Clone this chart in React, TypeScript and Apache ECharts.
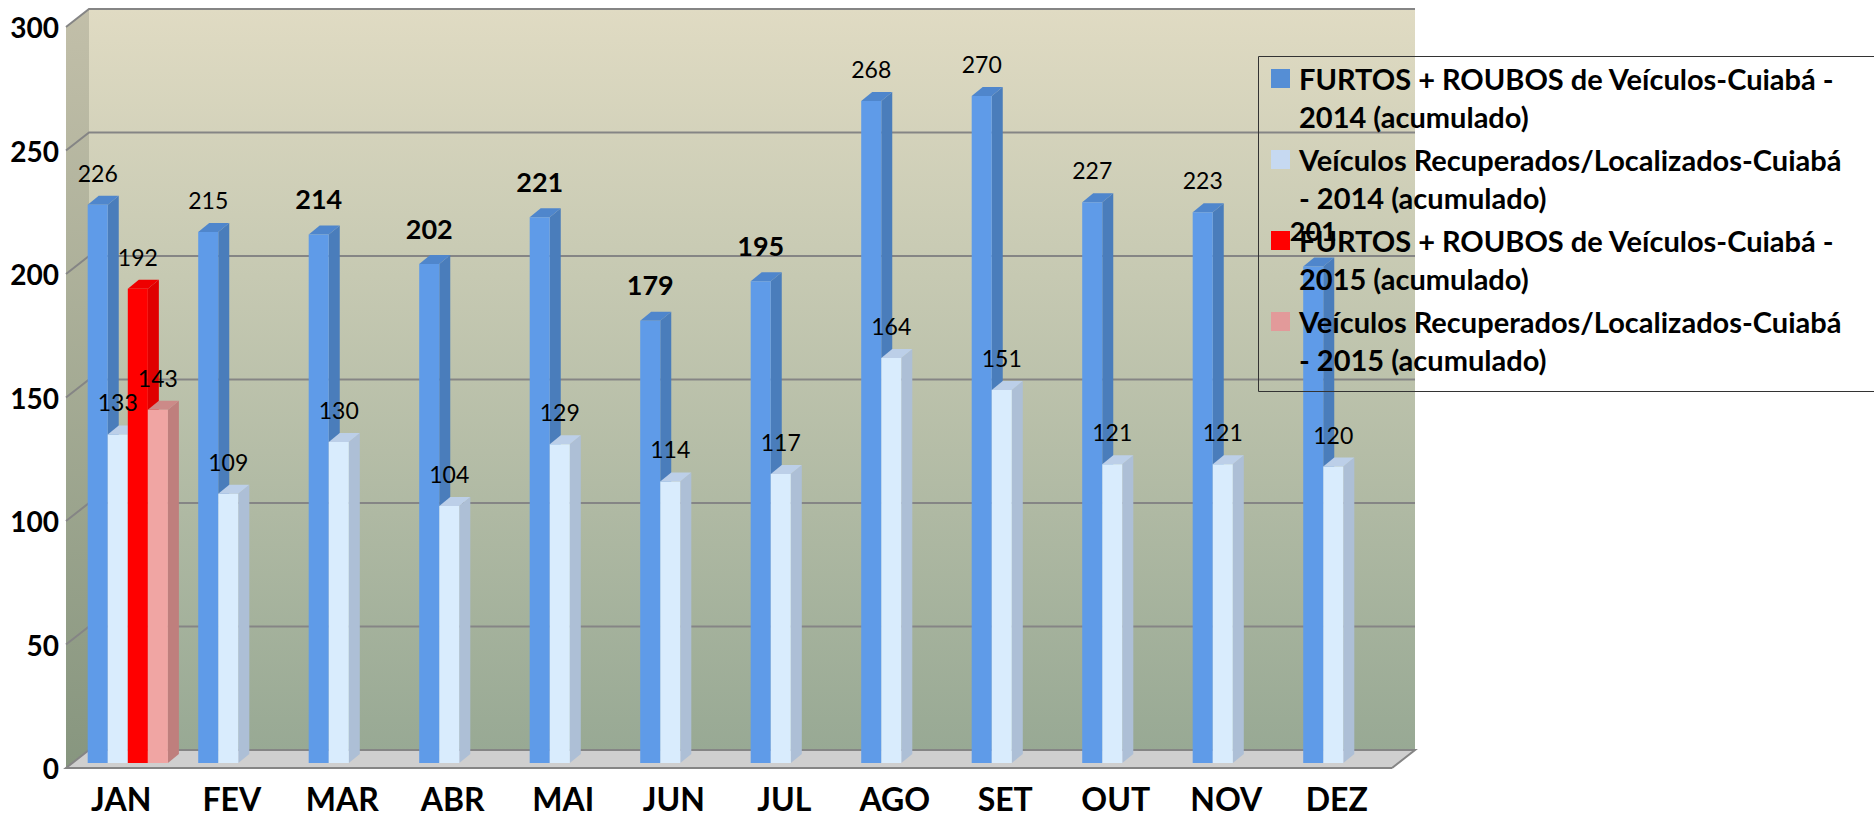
import React, { useEffect, useRef } from "react";
import * as echarts from "echarts";

const months = ["JAN", "FEV", "MAR", "ABR", "MAI", "JUN", "JUL", "AGO", "SET", "OUT", "NOV", "DEZ"];
const yTicks = [0, 50, 100, 150, 200, 250, 300];
const furtos2014 = [226, 215, 214, 202, 221, 179, 195, 268, 270, 227, 223, 201];
const recuperados2014 = [133, 109, 130, 104, 129, 114, 117, 164, 151, 121, 121, 120];
const furtos2015 = [192];
const recuperados2015 = [143];
const boldFurtosMonths = ["MAR", "ABR", "MAI", "JUN", "JUL", "DEZ"];

const names = [
  "FURTOS + ROUBOS de Veículos-Cuiabá -\n2014 (acumulado)",
  "Veículos Recuperados/Localizados-Cuiabá\n- 2014 (acumulado)",
  "FURTOS + ROUBOS de Veículos-Cuiabá -\n2015 (acumulado)",
  "Veículos Recuperados/Localizados-Cuiabá\n- 2015 (acumulado)",
];
const swatches = ["#558ED5", "#C6D9F1", "#FF0000", "#E29A9A"];
const faces = [
  { front: "#5F9BE8", side: "#4A7DBB", top: "#4F86CC" },
  { front: "#D9ECFD", side: "#ADBFD6", top: "#BCCFE8" },
  { front: "#FF0000", side: "#E00000", top: "#EE0000" },
  { front: "#F0A5A3", side: "#BF7F7D", top: "#CC8A88" },
];

const FONT = "Lato";
const WALL_DX = 23;
const WALL_DY = 18;
const BAR_DX = 11;
const BAR_DY = 9;
const BAR_W = 20.05;
const BAR_INSET = 21.7;
const BAR_LIFT = 5;
const LABEL_UP = 32;
const GRID_COLOR = "#858585";

function wallsRenderItem(_params: any, api: any) {
  const band = api.size([1, 0])[0];
  const x0 = api.coord([0, 0])[0] - band / 2;
  const x1 = x0 + band * months.length;
  const y0 = api.coord([0, 0])[1];
  const yTop = api.coord([0, 300])[1];
  const children: any[] = [
    {
      type: "polygon",
      shape: { points: [[x0 + WALL_DX, yTop - WALL_DY], [x1 + WALL_DX, yTop - WALL_DY], [x1 + WALL_DX, y0 - WALL_DY], [x0 + WALL_DX, y0 - WALL_DY]] },
      style: {
        fill: new echarts.graphic.LinearGradient(0, 0, 0, 1, [
          { offset: 0, color: "#E0DBC3" },
          { offset: 1, color: "#98A994" },
        ]),
      },
    },
    {
      type: "polygon",
      shape: { points: [[x0, yTop], [x0 + WALL_DX, yTop - WALL_DY], [x0 + WALL_DX, y0 - WALL_DY], [x0, y0]] },
      style: {
        fill: new echarts.graphic.LinearGradient(0, 0, 0, 1, [
          { offset: 0, color: "#C2BFA9" },
          { offset: 1, color: "#87967F" },
        ]),
      },
    },
    {
      type: "polygon",
      shape: { points: [[x0, y0], [x0 + WALL_DX, y0 - WALL_DY], [x1 + WALL_DX, y0 - WALL_DY], [x1, y0]] },
      style: { fill: "#CFCFCF" },
    },
  ];
  yTicks.forEach((t) => {
    const y = api.coord([0, t])[1];
    const points =
      t === 0
        ? [[x1, y], [x0, y], [x0 + WALL_DX, y - WALL_DY], [x1 + WALL_DX, y - WALL_DY], [x1, y]]
        : [[x0, y], [x0 + WALL_DX, y - WALL_DY], [x1 + WALL_DX, y - WALL_DY]];
    children.push({
      type: "polyline",
      shape: { points },
      style: { stroke: GRID_COLOR, lineWidth: 2, fill: "none" },
    });
  });
  return { type: "group", children };
}

function barRenderItem(slot: number, isBold: (i: number) => boolean) {
  return (_params: any, api: any) => {
    const idx = api.value(0);
    const val = api.value(1);
    const band = api.size([1, 0])[0];
    const cx = api.coord([idx, 0])[0];
    const y0 = api.coord([idx, 0])[1] - BAR_LIFT;
    const yv = api.coord([idx, val])[1] - BAR_LIFT;
    const x = cx - band / 2 + BAR_INSET + slot * BAR_W;
    const f = faces[slot];
    const bold = isBold(idx);
    return {
      type: "group",
      children: [
        {
          type: "polygon",
          shape: { points: [[x + BAR_W, yv], [x + BAR_W + BAR_DX, yv - BAR_DY], [x + BAR_W + BAR_DX, y0 - BAR_DY], [x + BAR_W, y0]] },
          style: { fill: f.side },
        },
        {
          type: "polygon",
          shape: { points: [[x, yv], [x + BAR_DX, yv - BAR_DY], [x + BAR_W + BAR_DX, yv - BAR_DY], [x + BAR_W, yv]] },
          style: { fill: f.top },
        },
        {
          type: "rect",
          shape: { x, y: yv, width: BAR_W, height: y0 - yv },
          style: { fill: f.front },
        },
        {
          type: "text",
          z2: 100,
          style: {
            text: String(val),
            x: x + BAR_W / 2,
            y: yv - (bold ? 36 : LABEL_UP),
            align: "center",
            verticalAlign: "middle",
            fontFamily: FONT,
            fontSize: bold ? 27 : 23,
            fontWeight: bold ? "bold" : "normal",
            fill: "#000",
          },
        },
      ],
    };
  };
}

const toPairs = (vals: number[]) => vals.map((v, i) => [i, v]);

export default function App() {
  const ref = useRef<HTMLDivElement>(null);
  useEffect(() => {
    const chart = echarts.init(ref.current!, undefined, { renderer: "svg" });
    const notBold = () => false;
    const allSeries = [furtos2014, recuperados2014, furtos2015, recuperados2015];
    chart.setOption({
      animation: false,
      backgroundColor: "#fff",
      grid: { left: 66, top: 27, width: 1326, height: 741, containLabel: false },
      xAxis: {
        type: "category",
        data: months,
        axisLine: { show: false },
        axisTick: { show: false },
        splitLine: { show: false },
        axisLabel: { margin: 14, color: "#000", fontFamily: FONT, fontWeight: "bold", fontSize: 32 },
      },
      yAxis: {
        type: "value",
        min: 0,
        max: 300,
        interval: 50,
        axisLine: { show: false },
        axisTick: { show: false },
        splitLine: { show: false },
        axisLabel: { margin: 7, color: "#000", fontFamily: FONT, fontWeight: "bold", fontSize: 28 },
      },
      legend: {
        orient: "vertical",
        left: 1271,
        top: 14.5,
        itemWidth: 19,
        itemHeight: 19,
        itemGap: -47,
        icon: "rect",
        padding: 0,
        data: names,
        formatter: (n: string) => "\n" + n,
        textStyle: { color: "#000", fontFamily: FONT, fontWeight: "bold", fontSize: 29, lineHeight: 38, padding: [14, 0, 0, 4] },
      },
      graphic: [
        {
          type: "rect",
          z: 10,
          silent: true,
          shape: { x: 1258.5, y: 56.5, width: 640, height: 335 },
          style: { fill: "none", stroke: "#333", lineWidth: 1 },
        },
      ],
      series: [
        {
          type: "custom",
          name: "walls",
          silent: true,
          z: 1,
          clip: false,
          data: [[0, 0]],
          encode: { x: 0, y: 1 },
          renderItem: wallsRenderItem,
        },
        ...allSeries.map((vals, slot) => ({
          type: "custom",
          name: names[slot],
          z: 2,
          clip: false,
          itemStyle: { color: swatches[slot] },
          data: toPairs(vals),
          encode: { x: 0, y: 1 },
          renderItem: barRenderItem(
            slot,
            slot === 0 ? (i: number) => boldFurtosMonths.includes(months[i]) : notBold
          ),
        })),
      ],
    });
    return () => chart.dispose();
  }, []);
  return <div ref={ref} style={{ position: "absolute", left: 0, top: 0, width: 1874, height: 816, overflow: "hidden" }} />;
}
